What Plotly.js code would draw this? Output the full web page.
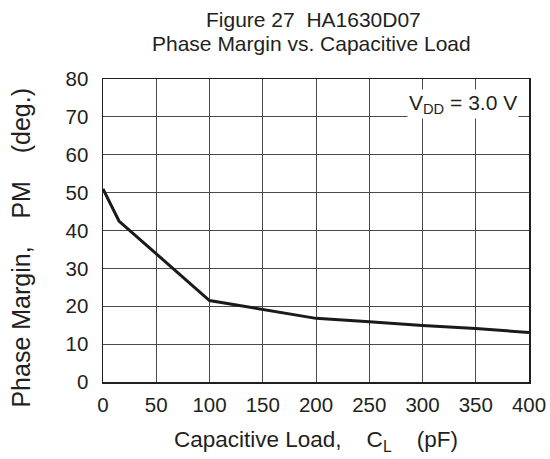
<!DOCTYPE html>
<html>
<head>
<meta charset="utf-8">
<script src="https://cdn.plot.ly/plotly-3.0.1.min.js"></script>
<style>html,body{margin:0;padding:0;background:#fff;}#chart{width:550px;height:459px;}</style>
</head>
<body>
<div id="chart"></div>
<script>
var capLoad = [0, 15, 100, 150, 200, 250, 300, 350, 400];
var phaseMargin = [51, 42.5, 21.5, 19.1, 16.8, 15.9, 14.9, 14.1, 13.1];
var xTicks = [0, 50, 100, 150, 200, 250, 300, 350, 400];
var yTicks = [0, 10, 20, 30, 40, 50, 60, 70, 80];
var titleLines = ['Figure 27&nbsp;&nbsp;HA1630D07', 'Phase Margin vs. Capacitive Load'];

var font = 'Liberation Sans, Arial, sans-serif';
var ink = '#231f20';
var trace = {
  x: capLoad, y: phaseMargin, mode: 'lines', type: 'scatter',
  line: {color: '#1a1a1a', width: 3}, hoverinfo: 'none'
};
var layout = {
  width: 550, height: 459,
  margin: {l: 103, r: 21, t: 79, b: 77},
  paper_bgcolor: '#fff', plot_bgcolor: '#fff',
  showlegend: false,
  font: {family: font, color: ink, size: 20},
  xaxis: {
    range: [0, 400], tickvals: xTicks, ticktext: xTicks.map(String),
    showgrid: true, gridcolor: '#4a4a4a', gridwidth: 1,
    showline: true, linecolor: ink, linewidth: 1.5, mirror: true,
    ticks: '', zeroline: false, ticklabelstandoff: 4,
    tickfont: {size: 20.5}
  },
  yaxis: {
    range: [0, 80], tickvals: yTicks, ticktext: yTicks.map(String),
    showgrid: true, gridcolor: '#4a4a4a', gridwidth: 1,
    showline: true, linecolor: ink, linewidth: 1.5, mirror: true,
    ticks: '', zeroline: false, ticklabelstandoff: 9,
    tickfont: {size: 20.5}
  },
  annotations: [{
    xref: 'paper', yref: 'paper', x: 0.493, y: 1.197,
    text: titleLines[0], showarrow: false,
    font: {size: 21, color: ink}, xanchor: 'center', yanchor: 'middle'
  }, {
    xref: 'paper', yref: 'paper', x: 0.489, y: 1.116,
    text: titleLines[1], showarrow: false,
    font: {size: 21, color: ink}, xanchor: 'center', yanchor: 'middle'
  }, {
    xref: 'paper', yref: 'paper', x: 0.844, y: 0.918,
    text: 'V<sub>DD</sub> = 3.0 V', showarrow: false,
    font: {size: 21, color: ink}, bgcolor: '#fff',
    borderpad: 1, xanchor: 'center', yanchor: 'middle'
  }, {
    xref: 'paper', yref: 'paper', x: 0.5, y: -0.194,
    text: 'Capacitive Load,&nbsp;&nbsp;&nbsp;&nbsp;C<sub>L</sub>&nbsp;&nbsp;&nbsp;&nbsp;(pF)', showarrow: false,
    font: {size: 22.5, color: ink}, xanchor: 'center', yanchor: 'middle'
  }, {
    xref: 'paper', yref: 'paper', x: -0.193, y: 0.443, textangle: -90,
    text: 'Phase Margin,&nbsp;&nbsp;&nbsp;&nbsp;PM&nbsp;&nbsp;&nbsp;&nbsp;(deg.)', showarrow: false,
    font: {size: 25, color: ink}, xanchor: 'center', yanchor: 'middle'
  }]
};
Plotly.newPlot('chart', [trace], layout, {displayModeBar: false, staticPlot: true});
</script>
</body>
</html>
